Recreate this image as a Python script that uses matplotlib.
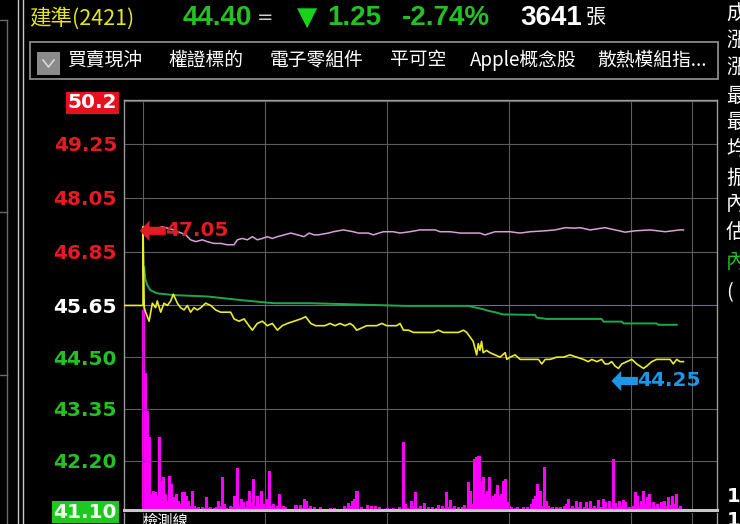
import numpy as np
import matplotlib
matplotlib.use("Agg")
import matplotlib.pyplot as plt
from matplotlib.patches import Rectangle, FancyArrowPatch
from matplotlib.lines import Line2D

# ---------------- data ----------------
stock_name = "建準(2421)"
last_price = "44.40"
equal_sign = "="
change = "1.25"
change_pct = "-2.74%"
total_volume = "3641"
volume_unit = "張"
menu_items = ["買賣現沖", "權證標的", "電子零組件", "平可空", "Apple概念股", "散熱模組指..."]
side_labels = ["成", "漲", "漲", "最", "最", "均", "振", "內", "估", "內", "("]
bottom_label = "檢測線"

ref_price = 45.65
limit_up = 50.2
limit_down = 41.10
tick_values = [50.2, 49.25, 48.05, 46.85, 45.65, 44.50, 43.35, 42.20, 41.10]
tick_labels = ["50.2", "49.25", "48.05", "46.85", "45.65", "44.50", "43.35", "42.20", "41.10"]
high_label = "47.05"
low_label = "44.25"

# time axis: minutes after 09:00
hour_marks = [0, 60, 120, 180, 240, 270]

# price (yellow)
price_t = [-9.35, 0, 0, 0.6, 1.3, 3.0, 4.6, 6.2, 7.0, 8.7, 10.3, 12.0, 13.6, 14.9, 16.9, 18.5,
           20.2, 21.8, 23.4, 25.1, 26.7, 28.4, 30.8, 33.3, 35.7, 38.2, 40.7, 43.1, 44.8, 47.2,
           49.7, 52.1, 53.8, 56.2, 58.7, 61.1, 63.6, 66.1, 68.5, 71.0, 74.3, 77.6, 80.0, 82.5,
           84.9, 87.4, 89.5, 92.0, 94.4, 96.9, 99.4, 101.8, 103.4, 105.1, 107.6, 110.0, 112.5,
           115.0, 117.4, 119.9, 122.3, 124.8, 126.4, 128.1, 130.6, 133.0, 135.5, 137.9, 140.4,
           142.8, 145.3, 147.7, 150.2, 152.6, 155.1, 157.6, 159.2, 160.8, 162.4, 164.1, 164.9,
           165.7, 166.5, 167.3, 169.0, 170.6, 173.1, 175.6, 178.1, 178.9, 180.5, 183.0, 185.5,
           187.9, 190.4, 192.8, 194.5, 196.1, 197.0, 197.8, 200.2, 203.5, 206.8, 210.0, 213.3,
           216.6, 219.0, 220.7, 223.2, 225.6, 227.2, 228.9, 230.5, 232.2, 233.8, 235.5, 237.9,
           240.4, 242.8, 244.5, 246.1, 247.7, 250.2, 252.6, 255.1, 257.6, 259.2, 260.8, 262.5,
           264.1, 265.8]
price_v = [45.65, 45.65, 47.40, 45.60, 45.50, 45.30, 45.70, 45.60, 45.75, 45.50, 45.70, 45.65,
           45.75, 45.90, 45.70, 45.60, 45.55, 45.65, 45.50, 45.60, 45.55, 45.60, 45.70, 45.65,
           45.55, 45.50, 45.50, 45.50, 45.35, 45.30, 45.35, 45.20, 45.10, 45.25, 45.30, 45.20,
           45.25, 45.10, 45.20, 45.25, 45.30, 45.35, 45.40, 45.25, 45.20, 45.20, 45.20, 45.25,
           45.20, 45.25, 45.20, 45.25, 45.20, 45.10, 45.15, 45.20, 45.20, 45.20, 45.25, 45.20,
           45.20, 45.20, 45.25, 45.10, 45.10, 45.05, 45.05, 45.05, 45.05, 45.05, 45.10, 45.05,
           45.05, 45.05, 45.05, 45.10, 45.05, 44.95, 44.85, 44.55, 44.80, 44.65, 44.85, 44.60,
           44.65, 44.60, 44.55, 44.50, 44.60, 44.45, 44.50, 44.55, 44.45, 44.45, 44.45, 44.45,
           44.45, 44.35, 44.40, 44.45, 44.45, 44.50, 44.50, 44.55, 44.50, 44.45, 44.40, 44.45,
           44.40, 44.45, 44.35, 44.35, 44.40, 44.30, 44.25, 44.35, 44.40, 44.45, 44.35, 44.30,
           44.25, 44.30, 44.40, 44.45, 44.45, 44.45, 44.45, 44.35, 44.45, 44.40, 44.40]

# average price (green)
avg_t = [0.6, 1.1, 2.0, 3.6, 6.9, 15.1, 31.6, 39.8, 48.0, 59.5, 64.4, 82.1, 98.5, 129.0,
         160.0, 164.0, 167.0, 170.0, 174.0, 177.0, 192.8, 193.6, 198.5, 225.6, 226.4, 235.5,
         236.3, 252.6, 253.4, 262.5]
avg_v = [46.50, 46.25, 46.11, 45.99, 45.92, 45.88, 45.85, 45.81, 45.77, 45.72, 45.70, 45.70,
         45.68, 45.64, 45.64, 45.60, 45.57, 45.53, 45.49, 45.45, 45.44, 45.38, 45.35, 45.35,
         45.29, 45.29, 45.25, 45.25, 45.22, 45.22]

# pink line
pink_t = [8.0, 9.5, 15.2, 21.0, 23.4, 25.9, 29.2, 31.6, 34.9, 38.2, 41.5, 44.8, 46.4, 48.8,
          51.3, 53.8, 56.2, 58.7, 61.1, 63.6, 66.1, 69.4, 72.7, 76.0, 79.2, 81.7, 84.1, 86.2,
          91.2, 93.6, 98.5, 103.4, 105.9, 110.8, 113.3, 118.2, 123.1, 126.4, 131.3, 136.3,
          143.7, 146.1, 151.0, 156.0, 160.8, 165.7, 168.2, 173.1, 178.1, 180.5, 185.4, 190.4,
          197.7, 202.6, 207.6, 212.5, 214.9, 219.9, 227.2, 232.2, 237.1, 242.0, 249.4, 256.8,
          264.1, 265.8]
pink_v = [47.38, 47.40, 47.33, 47.22, 47.11, 47.07, 47.11, 47.07, 47.03, 47.03, 47.00, 47.00,
          47.11, 47.14, 47.11, 47.18, 47.11, 47.14, 47.18, 47.14, 47.18, 47.22, 47.26, 47.22,
          47.18, 47.26, 47.22, 47.22, 47.26, 47.29, 47.33, 47.29, 47.26, 47.26, 47.22, 47.29,
          47.29, 47.26, 47.29, 47.33, 47.33, 47.29, 47.29, 47.26, 47.26, 47.26, 47.22, 47.29,
          47.29, 47.29, 47.26, 47.29, 47.31, 47.33, 47.38, 47.37, 47.38, 47.33, 47.38, 47.33,
          47.28, 47.31, 47.33, 47.29, 47.33, 47.33]

# per-minute volume (lots)
volume = [274, 188, 136, 100, 22, 26, 25, 19, 100, 40, 45, 22, 12, 47, 36, 18, 22, 12, 8, 25,
          25, 19, 12, 6, 26, 5, 3, 4, 2, 4, 3, 18, 3, 4, 2, 3, 4, 12, 5, 45,
          8, 3, 2, 5, 4, 19, 58, 5, 15, 11, 4, 12, 26, 11, 42, 6, 19, 8, 26, 8,
          4, 15, 53, 5, 8, 3, 5, 22, 3, 5, 4, 2, 1, 1, 2, 7, 2, 7, 3, 15,
          12, 3, 5, 2, 4, 1, 2, 4, 1, 1, 1, 2, 3, 1, 3, 1, 1, 1, 1, 5,
          3, 10, 5, 12, 15, 26, 2, 4, 2, 1, 7, 2, 5, 2, 5, 1, 4, 1, 1, 1,
          3, 1, 1, 3, 1, 2, 4, 2, 93, 8, 3, 2, 12, 5, 25, 3, 5, 2, 10, 2,
          4, 2, 4, 2, 3, 7, 2, 5, 3, 25, 4, 14, 3, 5, 2, 4, 2, 4, 7, 3,
          38, 26, 8, 70, 73, 74, 40, 45, 22, 26, 45, 15, 19, 22, 34, 19, 22, 40, 42, 11,
          5, 4, 2, 3, 4, 2, 1, 4, 2, 4, 2, 8, 15, 19, 36, 26, 5, 59, 12, 5,
          3, 4, 2, 4, 3, 4, 2, 5, 8, 15, 3, 5, 3, 12, 4, 11, 2, 4, 11, 3,
          12, 3, 5, 3, 14, 4, 15, 11, 3, 12, 4, 70, 10, 4, 12, 5, 14, 11, 3, 4,
          2, 5, 25, 19, 5, 12, 26, 8, 18, 22, 4, 11, 5, 8, 4, 11, 12, 5, 18, 7,
          19, 8, 22, 3, 6]
minutes = np.arange(len(volume))

# ---------------- styling ----------------
W, H = 740, 524
def fx(x): return x / W
def fy(y): return 1 - y / H

BG = "black"
YELLOW = "#ecec28"
GREEN_AVG = "#1fa84a"
PINK = "#d9a0d9"
MAGENTA = "#ff00ff"
GRID = "#5c5c5c"
REF_GRID = "#6c6c90"
RED = "#e31b23"
GREEN_TXT = "#25c025"
BLUE = "#1e96e6"
CJK = ["Noto Sans CJK TC", "DejaVu Sans"]

fig = plt.figure(figsize=(7.4, 5.24), dpi=100, facecolor=BG)

# --- volume axis (behind) and price axis (front) ---
ax_rect = [fx(124), 14 / H, 593 / W, 410 / H]
axv = fig.add_axes(ax_rect)
ax = fig.add_axes(ax_rect)
axv.set_facecolor(BG)
ax.patch.set_visible(False)

axv.bar(minutes, volume, width=1.0, color=MAGENTA, edgecolor=MAGENTA, linewidth=0.4,
        align="center", antialiased=False)
axv.set_ylim(0, 562)
axv.set_xlim(-9.35, 282.3)
axv.axis("off")

ax.set_xlim(-9.35, 282.3)
ax.set_ylim(limit_down, 50.22)
ax.set_xticks(hour_marks)
ax.set_yticks(tick_values)
ax.set_yticklabels(tick_labels)
ax.grid(True, color=GRID, linewidth=0.8)
for gl, v in zip(ax.yaxis.get_gridlines(), tick_values):
    if v == ref_price:
        gl.set_color(REF_GRID)
ax.tick_params(axis="x", length=0, labelbottom=False)
ax.tick_params(axis="y", length=0, pad=5)
for lab, v in zip(ax.get_yticklabels(), tick_values):
    lab.set_fontfamily("DejaVu Sans")
    lab.set_fontweight("bold")
    lab.set_fontsize(14.5)
    if v == limit_up:
        lab.set_color("white")
        lab.set_bbox(dict(facecolor="#e8101c", edgecolor="none", pad=1.2))
    elif v == limit_down:
        lab.set_color("#f0fff0")
        lab.set_bbox(dict(facecolor="#1ec81e", edgecolor="none", pad=1.2))
    elif v > ref_price:
        lab.set_color(RED)
    elif v == ref_price:
        lab.set_color("white")
    else:
        lab.set_color(GREEN_TXT)

for side in ["left", "top", "right"]:
    ax.spines[side].set_color("#9a9a9a")
    ax.spines[side].set_linewidth(1.0)
ax.spines["bottom"].set_color("#c8c8c8")
ax.spines["bottom"].set_linewidth(2.2)

ax.plot(pink_t, pink_v, color=PINK, linewidth=1.1, zorder=3)
ax.plot(avg_t, avg_v, color=GREEN_AVG, linewidth=1.4, zorder=3)
ax.plot(price_t, price_v, color=YELLOW, linewidth=1.2, zorder=4)

# high / low annotations (thick arrows + labels)
hi_i = int(np.argmax(price_v))
lo_i = int(np.argmin(price_v))
hi_t, hi_v = price_t[hi_i], price_v[hi_i]
lo_t, lo_v = price_t[lo_i], price_v[lo_i]
arrow_style = "simple,head_length=0.5,head_width=1.05,tail_width=0.42"
hy = hi_v - 0.09
ax.add_patch(FancyArrowPatch((hi_t + 11.2, hy), (hi_t - 1.6, hy), arrowstyle=arrow_style,
                             mutation_scale=14, color=RED, linewidth=0, zorder=6,
                             shrinkA=0, shrinkB=0))
ax.text(hi_t + 10.9, hy, high_label, color=RED, fontsize=14.5, fontweight="bold",
        family="DejaVu Sans", ha="left", va="center", zorder=6)
ly = lo_v - 0.28
ax.add_patch(FancyArrowPatch((lo_t + 9.6, ly), (lo_t - 3.4, ly), arrowstyle=arrow_style,
                             mutation_scale=14, color=BLUE, linewidth=0, zorder=6,
                             shrinkA=0, shrinkB=0))
ax.text(lo_t + 9.4, ly, low_label, color=BLUE, fontsize=14.5, fontweight="bold",
        family="DejaVu Sans", ha="left", va="center", zorder=6)

# --- lower panel ---
axl = fig.add_axes([fx(124), -30 / H, 593 / W, 41 / H])
axl.set_facecolor(BG)
axl.set_xlim(-9.35, 282.3)
axl.set_ylim(0, 1)
axl.set_xticks(hour_marks)
axl.set_yticks([])
axl.grid(True, axis="x", color=GRID, linewidth=0.8)
axl.tick_params(axis="x", length=0, labelbottom=False)
for side in ["left", "right"]:
    axl.spines[side].set_color("#9a9a9a")
    axl.spines[side].set_linewidth(1.0)
axl.spines["top"].set_visible(False)
axl.spines["bottom"].set_visible(False)
fig.text(fx(142), fy(513), bottom_label, color="white", fontsize=11, family=CJK,
         ha="left", va="top")

# --- header ---
fig.text(fx(29), fy(18), stock_name, color="#e6e619", fontsize=15.5, family=CJK,
         ha="left", va="center")
fig.text(fx(183), fy(18), last_price, color=GREEN_TXT, fontsize=20, fontweight="bold",
         family="Liberation Sans", ha="left", va="center")
fig.text(fx(257), fy(18), equal_sign, color="#d0d0d0", fontsize=14,
         family="DejaVu Sans", ha="left", va="center")
fig.text(fx(297), fy(18), "▼", color="#19d219", fontsize=19,
         family="DejaVu Sans", ha="left", va="center")
fig.text(fx(327), fy(18), change, color=GREEN_TXT, fontsize=20, fontweight="bold",
         family="Liberation Sans", ha="left", va="center")
fig.text(fx(402), fy(18), change_pct, color=GREEN_TXT, fontsize=20, fontweight="bold",
         family="Liberation Sans", ha="left", va="center")
fig.text(fx(520), fy(18), total_volume, color="white", fontsize=20, fontweight="bold",
         family="Liberation Sans", ha="left", va="center")
fig.text(fx(586), fy(17), volume_unit, color="white", fontsize=14.5, family=CJK,
         ha="left", va="center")

# toolbar
fig.add_artist(Rectangle((fx(30), fy(79)), 688 / W, 37 / H, transform=fig.transFigure,
                         facecolor="none", edgecolor="#8a8a8a", linewidth=1.3))
fig.add_artist(Rectangle((fx(37), fy(75)), 23 / W, 23 / H, transform=fig.transFigure,
                         facecolor="#8a8a8a", edgecolor="none"))
fig.add_artist(Line2D([fx(43), fx(48.5), fx(54)], [fy(60), fy(67), fy(60)],
                      transform=fig.transFigure, color="#d8d8d8", linewidth=1.2))
menu_x = [67, 168, 270, 390, 470, 597]
for mx, item in zip(menu_x, menu_items):
    fig.text(fx(mx), fy(60), item, color="white", fontsize=13.5, family=CJK,
             ha="left", va="center")

# right side panel (cut off at the window edge, as in the screenshot)
side_y = [14, 40, 67, 96, 122, 149, 178, 205, 232, 262, 293]
for sy, ch in zip(side_y, side_labels):
    col = GREEN_TXT if (sy == 262) else "white"
    fig.text(fx(726), fy(sy), ch, color=col, fontsize=14.5, family=CJK,
             ha="left", va="center")
for sy in [497, 521]:
    fig.text(fx(727), fy(sy), "1", color="white", fontsize=14, fontweight="bold",
             family="DejaVu Sans", ha="left", va="center")

# left strip lines
for lx, col in [(18, "#c8c8c8"), (23, "#c8c8c8")]:
    fig.add_artist(Line2D([fx(lx), fx(lx)], [0, 1], transform=fig.transFigure,
                          color=col, linewidth=1.0))
fig.add_artist(Line2D([fx(7), fx(7)], [0, fy(20)], transform=fig.transFigure,
                      color="#6a6a6a", linewidth=1.0))
for hy_ in [20, 212, 375]:
    fig.add_artist(Line2D([0, fx(7)], [fy(hy_), fy(hy_)], transform=fig.transFigure,
                          color="#6a6a6a", linewidth=1.0))

fig.savefig("out.png", dpi=100, facecolor=BG)
